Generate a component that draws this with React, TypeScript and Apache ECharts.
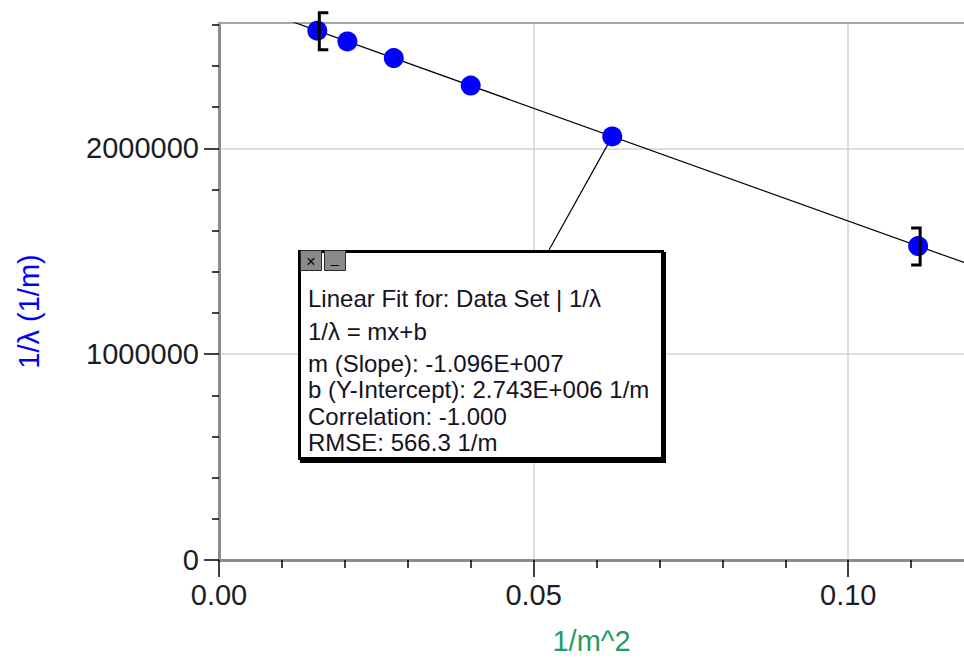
import React, { useEffect, useRef } from "react";
import * as echarts from "echarts";

// Data (1/m^2 vs 1/lambda)
const xValues = [0.015625, 0.020408, 0.027778, 0.04, 0.0625, 0.111111];
const yValues = [2571900, 2519300, 2438600, 2304800, 2058000, 1525300];

// Linear fit parameters shown in the annotation
const fitSlope = -1.096e7;
const fitIntercept = 2.743e6;

// Axis extents and tick labels
const xAxisMin = 0;
const xAxisMax = 0.1184;
const yAxisMin = 0;
const yAxisMax = 2609000;
const xTickValues = [0, 0.05, 0.1];
const yTickValues = [0, 1000000, 2000000];

const xAxisTitle = "1/m^2";
const yAxisTitle = "1/λ (1/m)";

const fitTextLines = [
  "Linear Fit for: Data Set | 1/λ",
  "1/λ = mx+b",
  "m (Slope): -1.096E+007",
  "b (Y-Intercept): 2.743E+006 1/m",
  "Correlation: -1.000",
  "RMSE: 566.3 1/m",
];
const fitTextY = [298, 331, 363, 389, 416, 442];

export default function App() {
  const ref = useRef<HTMLDivElement>(null);

  useEffect(() => {
    const chart = echarts.init(ref.current!, null, { renderer: "svg" });
    const font = "'Liberation Sans', Arial, sans-serif";
    const labelColor = "#1c1c24";

    const fitData = [
      [xAxisMin, fitIntercept + fitSlope * xAxisMin],
      [xAxisMax, fitIntercept + fitSlope * xAxisMax],
    ];
    const scatterData = xValues.map((x, i) => [x, yValues[i]]);
    const bracketData = [
      [xValues[0], yValues[0], 1],
      [xValues[xValues.length - 1], yValues[yValues.length - 1], -1],
    ];
    const leaderData = [[xValues[4], yValues[4]]];

    const boxElements: any[] = [
      { type: "rect", shape: { x: 300, y: 252, width: 366, height: 211 }, style: { fill: "#000" }, z: 100 },
      {
        type: "rect",
        shape: { x: 299.5, y: 251.5, width: 363, height: 207 },
        style: { fill: "#fff", stroke: "#000", lineWidth: 3 },
        z: 101,
      },
      {
        type: "rect",
        shape: { x: 300.5, y: 250.5, width: 21, height: 20 },
        style: { fill: "#8a8a8a", stroke: "#2a2a2a", lineWidth: 1 },
        z: 102,
      },
      {
        type: "text",
        style: { text: "×", x: 311, y: 261, fill: "#000", fontSize: 16, fontFamily: font, align: "center", verticalAlign: "middle" },
        z: 103,
      },
      {
        type: "rect",
        shape: { x: 324.5, y: 250.5, width: 21, height: 20 },
        style: { fill: "#8a8a8a", stroke: "#2a2a2a", lineWidth: 1 },
        z: 102,
      },
      {
        type: "text",
        style: { text: "_", x: 335, y: 258, fill: "#000", fontSize: 14, fontFamily: font, align: "center", verticalAlign: "middle" },
        z: 103,
      },
    ];
    fitTextLines.forEach((t, i) => {
      boxElements.push({
        type: "text",
        style: {
          text: t,
          x: 308,
          y: fitTextY[i],
          fill: "#15121f",
          fontSize: 24,
          fontFamily: font,
          align: "left",
          verticalAlign: "middle",
        },
        z: 103,
      });
    });

    chart.setOption({
      animation: false,
      backgroundColor: "#fff",
      grid: { left: 219, top: 23, right: 0, bottom: 97, containLabel: false },
      xAxis: [
        {
          type: "value",
          min: xAxisMin,
          max: xAxisMax,
          interval: 0.05,
          name: xAxisTitle,
          nameLocation: "middle",
          nameGap: 66,
          nameTextStyle: { color: "#1f9e5f", fontSize: 29, fontFamily: font },
          axisLine: { show: true, onZero: false, lineStyle: { color: "#8c8c8c", width: 3 } },
          axisTick: { show: true, length: 17, customValues: xTickValues, lineStyle: { color: "#000", width: 1.5 } },
          minorTick: { show: true, splitNumber: 5, length: 8, lineStyle: { color: "#000", width: 1.5 } },
          axisLabel: {
            customValues: xTickValues,
            margin: 20,
            color: labelColor,
            fontSize: 29,
            fontFamily: font,
            formatter: (v: number) => v.toFixed(2),
          },
          splitLine: { show: true, lineStyle: { color: "#d2d2d2", width: 1.5 } },
          minorSplitLine: { show: false },
        },
        {
          type: "value",
          position: "top",
          min: xAxisMin,
          max: xAxisMax,
          axisLine: { show: true, onZero: false, lineStyle: { color: "#a8a8a8", width: 2 } },
          axisTick: { show: false },
          axisLabel: { show: false },
          splitLine: { show: false },
        },
      ],
      yAxis: {
        type: "value",
        min: yAxisMin,
        max: yAxisMax,
        interval: 1000000,
        name: yAxisTitle,
        nameLocation: "middle",
        nameGap: 176,
        nameTextStyle: { color: "#0000ff", fontSize: 29, fontFamily: font, padding: [0, 40, 0, 0] },
        axisLine: { show: true, onZero: false, lineStyle: { color: "#8c8c8c", width: 3 } },
        axisTick: { show: true, length: 15, customValues: yTickValues, lineStyle: { color: "#000", width: 1.5 } },
        minorTick: { show: true, splitNumber: 5, length: 7, lineStyle: { color: "#000", width: 1.5 } },
        axisLabel: {
          customValues: yTickValues,
          margin: 20,
          color: labelColor,
          fontSize: 29,
          fontFamily: font,
          formatter: (v: number) => String(v),
        },
        splitLine: { show: true, lineStyle: { color: "#d2d2d2", width: 1.5 } },
        minorSplitLine: { show: false },
      },
      series: [
        {
          type: "line",
          data: fitData,
          symbol: "none",
          clip: true,
          lineStyle: { color: "#000", width: 1.2 },
          silent: true,
          z: 2,
        },
        {
          type: "custom",
          data: leaderData,
          clip: false,
          silent: true,
          z: 2,
          renderItem: (params: any, api: any) => {
            const p = api.coord([api.value(0), api.value(1)]);
            return {
              type: "line",
              shape: { x1: 549, y1: 250, x2: p[0], y2: p[1] },
              style: { stroke: "#000", lineWidth: 1.2 },
            };
          },
        },
        {
          type: "scatter",
          data: scatterData,
          symbol: "circle",
          symbolSize: 20,
          itemStyle: { color: "#0000ff", opacity: 1 },
          z: 3,
        },
        {
          type: "custom",
          data: bracketData,
          clip: false,
          silent: true,
          z: 4,
          renderItem: (params: any, api: any) => {
            const p = api.coord([api.value(0), api.value(1)]);
            const side = api.value(2);
            const vx = p[0] + 2;
            return {
              type: "polyline",
              shape: {
                points: [
                  [vx + 9 * side, p[1] - 18],
                  [vx, p[1] - 18],
                  [vx, p[1] + 19],
                  [vx + 9 * side, p[1] + 19],
                ],
              },
              style: { stroke: "#000", lineWidth: 3, fill: "none" },
            };
          },
        },
      ],
      graphic: boxElements,
    });

    return () => chart.dispose();
  }, []);

  return <div ref={ref} style={{ position: "fixed", left: 0, top: 0, width: 964, height: 660 }} />;
}
